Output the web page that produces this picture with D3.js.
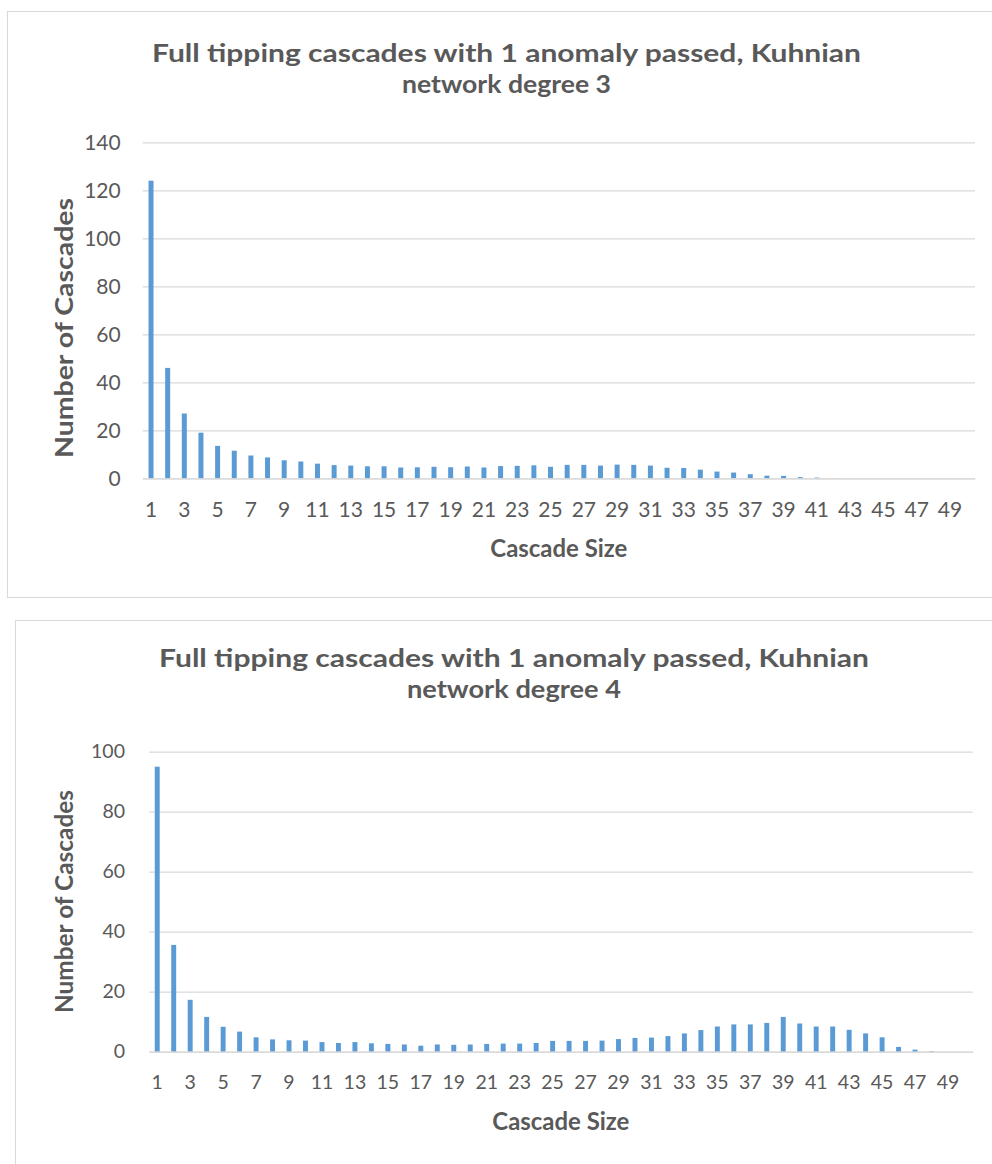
<!DOCTYPE html>
<html>
<head>
<meta charset="utf-8">
<script src="https://cdn.jsdelivr.net/npm/d3@7/dist/d3.min.js"></script>
<style>
  html, body { margin: 0; padding: 0; background: #ffffff; }
  svg { display: block; }
  text { font-family: Lato, "Open Sans", sans-serif; fill: #595959; }
</style>
</head>
<body>
<svg id="page" width="992" height="1164"></svg>
<script>
// Cascade sizes on the horizontal axis
const cascadeSizes = [1,2,3,4,5,6,7,8,9,10,11,12,13,14,15,16,17,18,19,20,
  21,22,23,24,25,26,27,28,29,30,31,32,33,34,35,36,37,38,39,40,
  41,42,43,44,45,46,47,48,49,50];

// Labelled sizes (every other category)
const sizeTickLabels = [1,3,5,7,9,11,13,15,17,19,21,23,25,27,29,31,33,35,37,39,41,43,45,47,49];

// Number of cascades, Kuhnian network degree 3
const countsDegree3 = [124,46,27,19,13.5,11.5,9.5,8.7,7.5,7,
  6.1,5.5,5.3,5,5,4.5,4.6,4.8,4.6,4.9,
  4.5,5.1,5.2,5.4,4.8,5.6,5.6,5.3,5.7,5.6,
  5.3,4.4,4.3,3.6,2.8,2.4,1.7,1.1,1.0,0.5,
  0.3,0.1,0.05,0,0,0,0,0,0,0];

// Number of cascades, Kuhnian network degree 4
const countsDegree4 = [95,35.6,17.3,11.6,8.3,6.7,4.8,4.1,3.8,3.7,
  3.2,2.9,3.2,2.8,2.6,2.4,2.0,2.4,2.3,2.4,
  2.6,2.7,2.7,2.9,3.6,3.6,3.6,3.7,4.2,4.6,
  4.7,5.2,6.1,7.2,8.4,9.1,9.1,9.6,11.6,9.4,
  8.4,8.4,7.3,6.1,4.8,1.6,0.7,0.2,0,0];

const yTicksDegree3 = [0,20,40,60,80,100,120,140];
const yTicksDegree4 = [0,20,40,60,80,100];

const titleLine1 = "Full tipping cascades with 1 anomaly passed, Kuhnian";
const titleLine2Degree3 = "network degree 3";
const titleLine2Degree4 = "network degree 4";
const xAxisTitle = "Cascade Size";
const yAxisTitle = "Number of Cascades";

const svg = d3.select("#page");

function drawChart(cfg) {
  const g = svg.append("g");

  // chart frame
  g.append("rect")
    .attr("x", cfg.box.x + 0.5).attr("y", cfg.box.y + 0.5)
    .attr("width", cfg.box.w).attr("height", cfg.box.h)
    .attr("fill", "#ffffff").attr("stroke", "#d9d9d9").attr("stroke-width", 1);

  // two-line title
  g.append("text")
    .attr("x", cfg.titleX).attr("y", cfg.titleY1)
    .attr("text-anchor", "middle")
    .attr("font-size", 24).attr("font-weight", 700)
    .attr("textLength", cfg.title1Len).attr("lengthAdjust", "spacingAndGlyphs")
    .text(titleLine1);
  g.append("text")
    .attr("x", cfg.titleX).attr("y", cfg.titleY2)
    .attr("text-anchor", "middle")
    .attr("font-size", 24).attr("font-weight", 700)
    .attr("textLength", cfg.title2Len).attr("lengthAdjust", "spacingAndGlyphs")
    .text(cfg.title2);

  const x = d3.scaleBand()
    .domain(cascadeSizes)
    .range([cfg.plot.left, cfg.plot.right])
    .paddingInner(0.7)
    .paddingOuter(0.35);

  const y = d3.scaleLinear()
    .domain([0, d3.max(cfg.yTicks)])
    .range([cfg.plot.bottom, cfg.plot.top]);

  // horizontal gridlines with value labels
  const yAxis = d3.axisLeft(y)
    .tickValues(cfg.yTicks)
    .tickSize(-(cfg.plot.right - cfg.plot.left))
    .tickPadding(cfg.yTickPad)
    .tickFormat(d3.format("d"));
  const ya = g.append("g")
    .attr("transform", `translate(${cfg.plot.left},0)`)
    .call(yAxis);
  ya.select(".domain").remove();
  ya.selectAll(".tick line").attr("stroke", "#d9d9d9").attr("stroke-width", 1.3);
  ya.selectAll(".tick text")
    .attr("font-size", cfg.tickFont)
    .attr("font-family", "Lato, sans-serif")
    .attr("fill", "#595959");

  // bars
  g.append("g").selectAll("rect")
    .data(cascadeSizes.map((s, i) => ({ size: s, value: cfg.values[i] })))
    .join("rect")
    .attr("x", d => x(d.size))
    .attr("width", x.bandwidth())
    .attr("y", d => y(d.value))
    .attr("height", d => y(0) - y(d.value))
    .attr("fill", "#5b9bd5");

  // category axis
  const xAxis = d3.axisBottom(x)
    .tickValues(sizeTickLabels)
    .tickSize(0)
    .tickPadding(cfg.xTickPad);
  const xa = g.append("g")
    .attr("transform", `translate(0,${cfg.plot.bottom})`)
    .call(xAxis);
  xa.select(".domain").attr("stroke", "#d9d9d9").attr("stroke-width", 1.3);
  xa.selectAll(".tick text")
    .attr("font-size", cfg.tickFont)
    .attr("font-family", "Lato, sans-serif")
    .attr("fill", "#595959");

  // axis titles
  g.append("text")
    .attr("x", (cfg.plot.left + cfg.plot.right) / 2)
    .attr("y", cfg.xTitleY)
    .attr("text-anchor", "middle")
    .attr("font-size", 24).attr("font-weight", 700)
    .attr("textLength", cfg.xTitleLen).attr("lengthAdjust", "spacingAndGlyphs")
    .text(xAxisTitle);

  g.append("text")
    .attr("transform", `translate(${cfg.yTitleX},${cfg.yTitleCY}) rotate(-90)`)
    .attr("text-anchor", "middle")
    .attr("font-size", cfg.yTitleFont).attr("font-weight", 700)
    .attr("textLength", cfg.yTitleLen).attr("lengthAdjust", "spacingAndGlyphs")
    .text(yAxisTitle);
}

drawChart({
  box: { x: 7, y: 11, w: 1000, h: 586 },
  titleX: 506.5, titleY1: 62, titleY2: 93,
  title1Len: 709, title2Len: 209, title2: titleLine2Degree3,
  plot: { left: 142.7, right: 975, top: 142.3, bottom: 478.3 },
  values: countsDegree3, yTicks: yTicksDegree3,
  tickFont: 21, yTickPad: 22, xTickPad: 24,
  xTitleY: 557, xTitleLen: 137,
  yTitleX: 73, yTitleCY: 328, yTitleFont: 25, yTitleLen: 260
});

drawChart({
  box: { x: 15, y: 620, w: 1000, h: 600 },
  titleX: 514, titleY1: 667, titleY2: 698,
  title1Len: 710, title2Len: 214, title2: titleLine2Degree4,
  plot: { left: 149, right: 972.7, top: 751.7, bottom: 1051.7 },
  values: countsDegree4, yTicks: yTicksDegree4,
  tickFont: 19.5, yTickPad: 24, xTickPad: 23.5,
  xTitleY: 1130, xTitleLen: 137,
  yTitleX: 73, yTitleCY: 901.5, yTitleFont: 24, yTitleLen: 223
});
</script>
</body>
</html>
